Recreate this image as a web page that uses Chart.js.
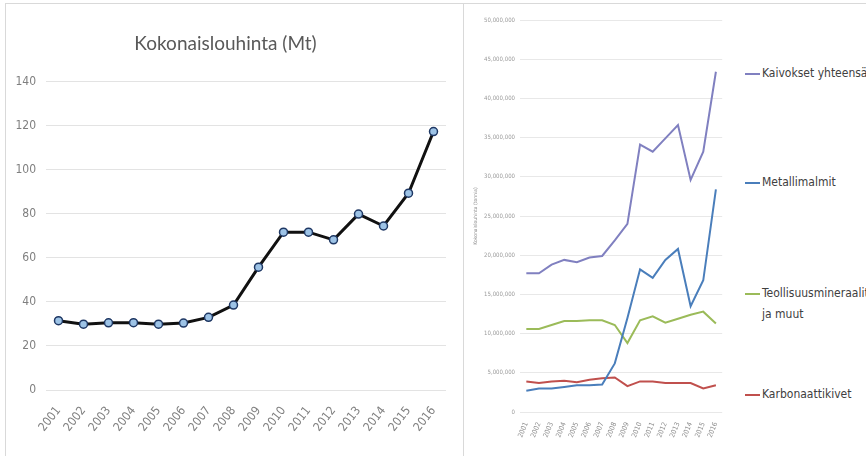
<!DOCTYPE html>
<html>
<head>
<meta charset="utf-8">
<title>Kokonaislouhinta</title>
<script src="https://cdn.jsdelivr.net/npm/chart.js@4.4.1/dist/chart.umd.min.js"></script>
<style>
  html, body { margin: 0; padding: 0; background: #fff; }
  body { width: 866px; height: 456px; position: relative; overflow: hidden; }
  .panel { position: absolute; box-sizing: border-box; border: 1px solid #d9d9d9; }
  #left-panel { left: 5px; top: 3px; width: 459px; height: 470px; }
  #right-panel { left: 463px; top: 3px; width: 420px; height: 470px; }
  canvas { position: absolute; }
  #total-chart { left: 5px; top: 3px; }
  #mines-chart { left: 463px; top: 3px; }
  .legend-item { position: absolute; left: 745px; font: 12px "Liberation Sans Narrow", "DejaVu Sans Condensed", sans-serif; color: #404040; white-space: nowrap; }
  .legend-swatch { position: absolute; left: 0; width: 15px; height: 2px; }
  .legend-text { position: absolute; left: 17px; line-height: 21px; }
</style>
</head>
<body>
<div class="panel" id="left-panel"></div>
<div class="panel" id="right-panel"></div>
<canvas id="total-chart" width="457" height="453"></canvas>
<canvas id="mines-chart" width="270" height="453"></canvas>
<div id="legend"></div>

<script>
// Years shared by both charts
const years = ['2001', '2002', '2003', '2004', '2005', '2006', '2007', '2008',
  '2009', '2010', '2011', '2012', '2013', '2014', '2015', '2016'];

// Total extraction, Mt
const totalMt = [31.5, 29.9, 30.5, 30.6, 29.9, 30.4, 33.0, 38.6,
  55.8, 71.7, 71.7, 68.2, 79.9, 74.5, 89.4, 117.4];

// Extraction by type, Mt
const minesTotal = [17.7, 17.7, 18.8, 19.4, 19.1, 19.7, 19.9, 21.9,
  24.0, 34.1, 33.2, 34.9, 36.6, 29.6, 33.2, 43.4];
const metalOres = [2.7, 3.0, 3.0, 3.2, 3.4, 3.4, 3.5, 6.2,
  12.0, 18.2, 17.1, 19.4, 20.8, 13.5, 16.8, 28.4];
const industrialMinerals = [10.6, 10.6, 11.1, 11.6, 11.6, 11.7, 11.7, 11.1,
  8.8, 11.7, 12.2, 11.4, 11.9, 12.4, 12.8, 11.3];
const carbonateRocks = [3.9, 3.7, 3.9, 4.0, 3.8, 4.1, 4.3, 4.4,
  3.3, 3.9, 3.9, 3.7, 3.7, 3.7, 3.0, 3.4];

const seriesNames = ['Kaivokset yhteensä', 'Metallimalmit', 'Teollisuusmineraalit ja muut', 'Karbonaattikivet'];
const seriesColors = ['#8080c0', '#4a7ebb', '#9bbb59', '#c0504d'];
const legendTops = [63, 172, 283, 384];

const totalTicks = { min: 0, max: 140, step: 20 };
const minesTicks = { min: 0, max: 50, step: 5 };

const narrow = '"Liberation Sans Narrow", "DejaVu Sans Condensed", sans-serif';

// Left chart: total extraction
new Chart(document.getElementById('total-chart').getContext('2d'), {
  type: 'line',
  data: {
    labels: years,
    datasets: [{
      label: 'Kokonaislouhinta (Mt)',
      data: totalMt,
      borderColor: '#111111',
      borderWidth: 3,
      pointRadius: 4,
      pointBackgroundColor: '#9dc3e6',
      pointBorderColor: '#1f3864',
      pointBorderWidth: 1.5,
      tension: 0
    }]
  },
  options: {
    responsive: false,
    animation: false,
    layout: { padding: { left: 0, right: 16, top: 0, bottom: 0 } },
    plugins: {
      legend: { display: false },
      tooltip: { enabled: false },
      title: {
        display: true,
        text: 'Kokonaislouhinta (Mt)',
        color: '#595959',
        font: { family: 'Lato, "Open Sans", sans-serif', size: 19, weight: 'normal' },
        padding: { top: 29, bottom: 27 }
      }
    },
    scales: {
      x: {
        offset: true,
        grid: { display: false, drawTicks: false },
        border: { display: false },
        ticks: {
          color: '#7f7f7f',
          font: { family: narrow, size: 12 },
          minRotation: 52,
          maxRotation: 52,
          padding: 14
        },
        afterFit: function(scale) { scale.height = 66; }
      },
      y: {
        min: totalTicks.min,
        max: totalTicks.max,
        grid: { color: '#e3e3e3', drawTicks: false },
        border: { display: false },
        ticks: {
          stepSize: totalTicks.step,
          color: '#7f7f7f',
          font: { family: narrow, size: 12 },
          padding: 10
        },
        afterFit: function(scale) { scale.width = 41; }
      }
    }
  }
});

// Right chart: extraction by type
const minesData = [minesTotal, metalOres, industrialMinerals, carbonateRocks];

new Chart(document.getElementById('mines-chart').getContext('2d'), {
  type: 'line',
  data: {
    labels: years,
    datasets: minesData.map(function(values, i) {
      return {
        label: seriesNames[i],
        data: values,
        borderColor: seriesColors[i],
        borderWidth: 2,
        pointRadius: 0,
        tension: 0
      };
    })
  },
  options: {
    responsive: false,
    animation: false,
    layout: { padding: { left: 0, right: 10, top: 17, bottom: 0 } },
    plugins: {
      legend: { display: false },
      tooltip: { enabled: false }
    },
    scales: {
      x: {
        offset: true,
        grid: { display: false, drawTicks: false },
        border: { display: false },
        ticks: {
          color: '#8f8f8f',
          font: { family: narrow, size: 7 },
          minRotation: 68,
          maxRotation: 68,
          padding: 9
        },
        afterFit: function(scale) { scale.height = 44; }
      },
      y: {
        min: minesTicks.min,
        max: minesTicks.max,
        grid: { color: '#e8e8e8', drawTicks: false },
        border: { display: false },
        title: {
          display: true,
          text: 'Kokonaislouhinta (tonnia)',
          color: '#8a8a8a',
          font: { family: narrow, size: 5 },
          padding: { top: 10, bottom: 0 }
        },
        ticks: {
          stepSize: minesTicks.step,
          color: '#9a9a9a',
          font: { family: narrow, size: 6 },
          padding: 5,
          callback: function(value) {
            return (value * 1000000).toLocaleString('en-US');
          }
        },
        afterFit: function(scale) { scale.width = 57; }
      }
    }
  }
});

// Legend on the right, one item per series
const legendEl = document.getElementById('legend');
seriesNames.forEach(function(name, i) {
  const item = document.createElement('div');
  item.className = 'legend-item';
  item.style.top = legendTops[i] + 'px';
  const swatch = document.createElement('span');
  swatch.className = 'legend-swatch';
  swatch.style.background = seriesColors[i];
  swatch.style.top = '10px';
  const text = document.createElement('span');
  text.className = 'legend-text';
  if (name === 'Teollisuusmineraalit ja muut') {
    text.innerHTML = 'Teollisuusmineraalit<br>ja muut';
  } else {
    text.textContent = name;
  }
  item.appendChild(swatch);
  item.appendChild(text);
  legendEl.appendChild(item);
});
</script>
</body>
</html>
